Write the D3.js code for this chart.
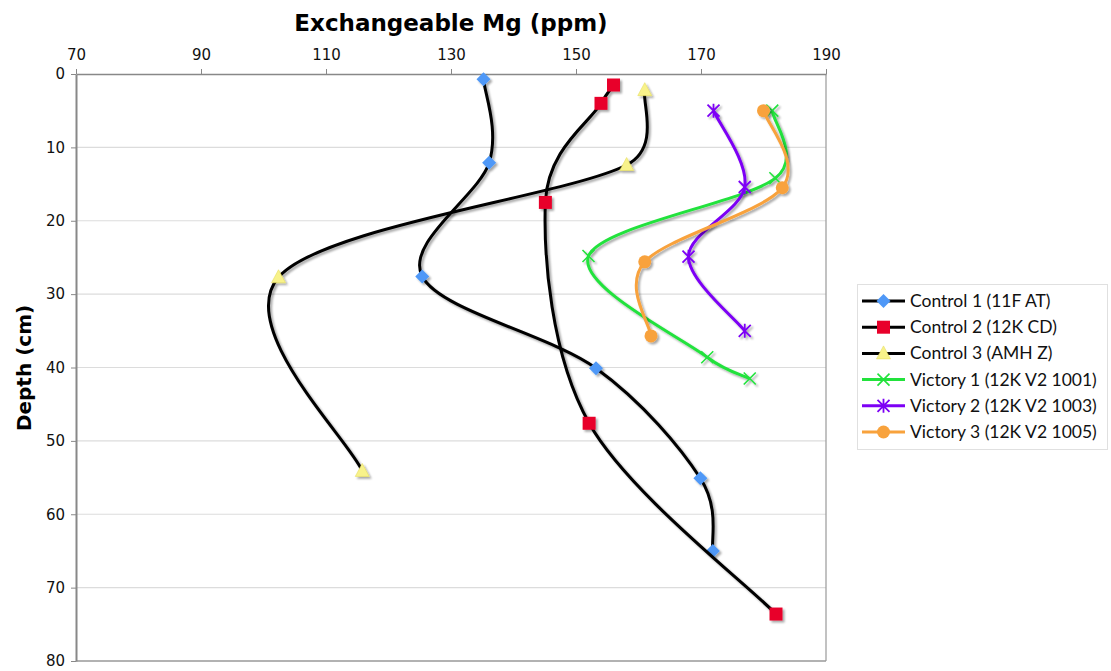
<!DOCTYPE html>
<html><head><meta charset="utf-8">
<script src="https://cdn.jsdelivr.net/npm/d3@7"></script>
<style>body{margin:0;background:#fff}svg{display:block}</style>
</head><body><div id="chart"></div>
<script>
const seriesNames = ["Control 1 (11F AT)","Control 2 (12K CD)","Control 3 (AMH Z)","Victory 1 (12K V2 1001)","Victory 2 (12K V2 1003)","Victory 3 (12K V2 1005)"];
const control1 = [[135.2,0.7],[136.1,12.1],[125.4,27.6],[153.2,40.1],[169.9,55.1],[171.9,65.0]];
const control2 = [[156.0,1.5],[154.0,4.0],[145.1,17.5],[152.1,47.6],[182.0,73.6]];
const control3 = [[161.0,2.2],[158.1,12.4],[102.4,27.7],[115.8,54.1]];
const victory1 = [[181.4,5.0],[181.9,14.2],[152.0,24.8],[171.0,38.6],[177.8,41.5]];
const victory2 = [[172.0,5.0],[177.0,15.4],[168.0,24.9],[177.0,35.0]];
const victory3 = [[180.0,5.0],[183.0,15.5],[161.0,25.6],[162.0,35.7]];
const xTicks = [70,90,110,130,150,170,190];
const yTicks = [0,10,20,30,40,50,60,70,80];
const lineColors = ["#000","#000","#000","#22e23c","#7d00f5","#f8a23c"];
const markerColors = ["#4f98f7","#e8002a","#f8f28a","#22e23c","#7d00f5","#f8a23c"];
const markerTypes = ["diamond","square","triangle","x","asterisk","circle"];
const allData = [control1,control2,control3,victory1,victory2,victory3];

// Excel-like smoothing curve for d3.line (tension 1/6, control arm capped at half the segment)
function ExcelCurve(context){this._context=context;}
ExcelCurve.prototype={
  areaStart(){},areaEnd(){},
  lineStart(){this._pts=[];},
  point(x,y){this._pts.push([+x,+y]);},
  lineEnd(){
    const p=this._pts,c=this._context,n=p.length;
    if(!n)return;
    c.moveTo(p[0][0],p[0][1]);
    const dist=(a,b)=>Math.hypot(a[0]-b[0],a[1]-b[1]);
    for(let i=0;i<n-1;i++){
      const P0=p[Math.max(i-1,0)],P1=p[i],P2=p[i+1],P3=p[Math.min(i+2,n-1)];
      const d12=dist(P1,P2),d02=dist(P0,P2),d13=dist(P1,P3);
      const f1=d02>0?Math.min(1/6,d12/(2*d02)):0;
      const f2=d13>0?Math.min(1/6,d12/(2*d13)):0;
      const c1=[P1[0]+(P2[0]-P0[0])*f1,P1[1]+(P2[1]-P0[1])*f1];
      const c2=[P2[0]-(P3[0]-P1[0])*f2,P2[1]-(P3[1]-P1[1])*f2];
      c.bezierCurveTo(c1[0],c1[1],c2[0],c2[1],P2[0],P2[1]);
    }
  }
};
const excelCurve=ctx=>new ExcelCurve(ctx);

const W=1111,H=671;
const svg=d3.select("#chart").append("svg").attr("width",W).attr("height",H);
const defs=svg.append("defs");
const f=defs.append("filter").attr("id","sh").attr("x","-20%").attr("y","-20%").attr("width","140%").attr("height","140%");
f.append("feGaussianBlur").attr("in","SourceAlpha").attr("stdDeviation",0.8).attr("result","b");
f.append("feOffset").attr("in","b").attr("dx",1.5).attr("dy",2).attr("result","o");
f.append("feComponentTransfer").attr("in","o").attr("result","o2").append("feFuncA").attr("type","linear").attr("slope",0.35);
const fm=f.append("feMerge"); fm.append("feMergeNode").attr("in","o2"); fm.append("feMergeNode").attr("in","SourceGraphic");

const L=76,R=826,T=74,B=661;
const x=d3.scaleLinear().domain([70,190]).range([L,R]);
const y=d3.scaleLinear().domain([0,80]).range([T,B]);

svg.append("g").selectAll("line").data(yTicks.filter(d=>d>0&&d<80)).join("line")
 .attr("x1",L).attr("x2",R).attr("y1",d=>y(d)).attr("y2",d=>y(d)).attr("stroke","#dcdcdc").attr("stroke-width",1.2);
svg.append("line").attr("x1",R).attr("x2",R).attr("y1",T).attr("y2",B).attr("stroke","#999").attr("stroke-width",1.2);
svg.append("line").attr("x1",L).attr("x2",R).attr("y1",B).attr("y2",B).attr("stroke","#999").attr("stroke-width",1.5);

const xAxis=svg.append("g").attr("transform",`translate(0,${T})`).call(d3.axisTop(x).tickValues(xTicks).tickSize(5).tickPadding(9).tickSizeOuter(0));
xAxis.select(".domain").attr("stroke","#888").attr("stroke-width",1.5);
xAxis.selectAll(".tick line").attr("stroke","#888");
xAxis.selectAll("text").attr("font-family","DejaVu Sans").attr("font-size",15).attr("fill","#111");
const yAxis=svg.append("g").attr("transform",`translate(${L},0)`).call(d3.axisLeft(y).tickValues(yTicks).tickSize(5).tickPadding(6).tickSizeOuter(0));
yAxis.select(".domain").attr("stroke","#888").attr("stroke-width",2);
yAxis.selectAll(".tick line").attr("stroke","#888");
yAxis.selectAll("text").attr("font-family","DejaVu Sans").attr("font-size",15).attr("fill","#111");

svg.append("text").attr("x",451).attr("y",31).attr("text-anchor","middle").attr("font-family","DejaVu Sans").attr("font-weight","bold").attr("font-size",23).text("Exchangeable Mg (ppm)");
svg.append("text").attr("transform","translate(31,368) rotate(-90)").attr("text-anchor","middle").attr("font-family","DejaVu Sans").attr("font-weight","bold").attr("font-size",20).text("Depth (cm)");

function drawMarker(g,type,color,cx,cy){
  if(type==="diamond"){g.append("path").attr("d",`M${cx},${cy-7}L${cx+7},${cy}L${cx},${cy+7}L${cx-7},${cy}Z`).attr("fill",color);}
  else if(type==="square"){g.append("rect").attr("x",cx-6.5).attr("y",cy-6.5).attr("width",13).attr("height",13).attr("fill",color);}
  else if(type==="triangle"){g.append("path").attr("d",`M${cx},${cy-7.5}L${cx+7},${cy+5.5}L${cx-7},${cy+5.5}Z`).attr("fill",color).attr("stroke","#e6dd60").attr("stroke-width",0.6);}
  else if(type==="circle"){g.append("circle").attr("cx",cx).attr("cy",cy).attr("r",6.5).attr("fill",color);}
  else if(type==="x"){g.append("path").attr("d",`M${cx-6},${cy-6}L${cx+6},${cy+6}M${cx-6},${cy+6}L${cx+6},${cy-6}`).attr("stroke",color).attr("stroke-width",1.6);}
  else if(type==="asterisk"){g.append("path").attr("d",`M${cx-6},${cy-6}L${cx+6},${cy+6}M${cx-6},${cy+6}L${cx+6},${cy-6}M${cx},${cy-7}L${cx},${cy+7}`).attr("stroke",color).attr("stroke-width",1.8);}
}

const line=d3.line().x(d=>x(d[0])).y(d=>y(d[1])).curve(excelCurve);
allData.forEach((data,i)=>{
  const g=svg.append("g").attr("filter","url(#sh)");
  g.append("path").datum(data).attr("d",line).attr("fill","none").attr("stroke",lineColors[i]).attr("stroke-width",3);
  data.forEach(d=>drawMarker(g,markerTypes[i],markerColors[i],x(d[0]),y(d[1])));
});

const lg=svg.append("g");
lg.append("rect").attr("x",857.5).attr("y",284.5).attr("width",250).attr("height",165).attr("fill","#fff").attr("stroke","#e0e0e0");
seriesNames.forEach((n,i)=>{
  const cy=301+i*26.2;
  const g=lg.append("g");
  g.append("line").attr("x1",862).attr("x2",905).attr("y1",cy).attr("y2",cy).attr("stroke",lineColors[i]).attr("stroke-width",3);
  drawMarker(g,markerTypes[i],markerColors[i],883.5,cy);
  g.append("text").attr("x",910).attr("y",cy+6).attr("font-family","Lato").attr("font-size",17.5).attr("fill","#111").text(n);
});
</script></body></html>
